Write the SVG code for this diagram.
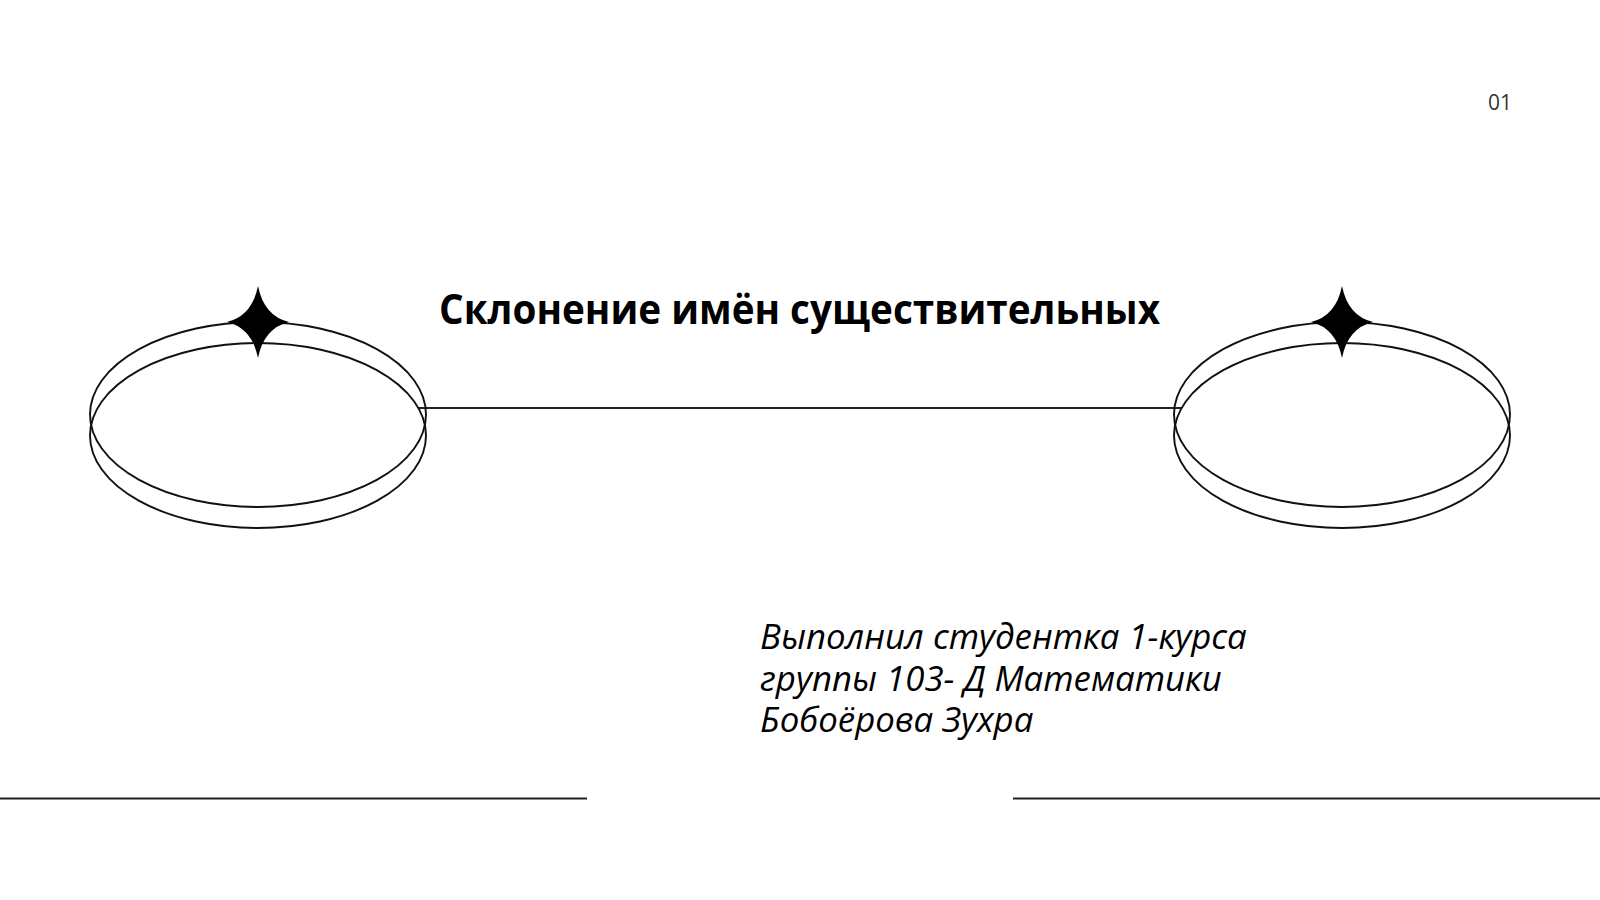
<svg xmlns="http://www.w3.org/2000/svg" width="1600" height="900" viewBox="0 0 1600 900">
<style>
.ring{fill:none;stroke:#111;stroke-width:1.9}
.star{fill:#000}
.ln{stroke:#222;stroke-width:2}
.title{font-family:"Open Sans","Liberation Sans",sans-serif;font-weight:700;font-size:41px;fill:#000}
.sub{font-family:"Open Sans","Liberation Sans",sans-serif;font-style:italic;font-size:34.8px;fill:#000}
.num{font-family:"Open Sans","Liberation Sans",sans-serif;font-size:21px;font-weight:500;fill:#333}
</style>
<defs>
<path id="star" d="M0,-36 Q6,-6 31,0 Q6,6 0,36 Q-6,6 -31,0 Q-6,-6 0,-36 Z"/>
</defs>
<rect width="1600" height="900" fill="#fff"/>
<g id="connectors">
<line class="ln" x1="418" y1="408" x2="1182" y2="408" style="stroke-width:1.8"/>
<line class="ln" x1="0" y1="798.5" x2="587" y2="798.5"/>
<line class="ln" x1="1013" y1="798.5" x2="1600" y2="798.5"/>
</g>
<g id="node-left">
<ellipse class="ring" cx="258" cy="414.5" rx="168" ry="92.5"/>
<ellipse class="ring" cx="258" cy="435.5" rx="168" ry="92.5"/>
<use href="#star" class="star" x="258" y="322"/>
</g>
<g id="node-right">
<ellipse class="ring" cx="1342" cy="414.5" rx="168" ry="92.5"/>
<ellipse class="ring" cx="1342" cy="435.5" rx="168" ry="92.5"/>
<use href="#star" class="star" x="1342" y="322"/>
</g>
<g id="title">
<text class="title" x="439" y="324" textLength="721" lengthAdjust="spacingAndGlyphs">Склонение имён существительных</text>
</g>
<g id="subtitle">
<text class="sub" x="760" y="649">Выполнил студентка 1-курса</text>
<text class="sub" x="760" y="691">группы 103- Д Математики</text>
<text class="sub" x="760" y="732">Бобоёрова Зухра</text>
</g>
<g id="page-number">
<text class="num" x="1512" y="110" text-anchor="end">01</text>
</g>
</svg>
